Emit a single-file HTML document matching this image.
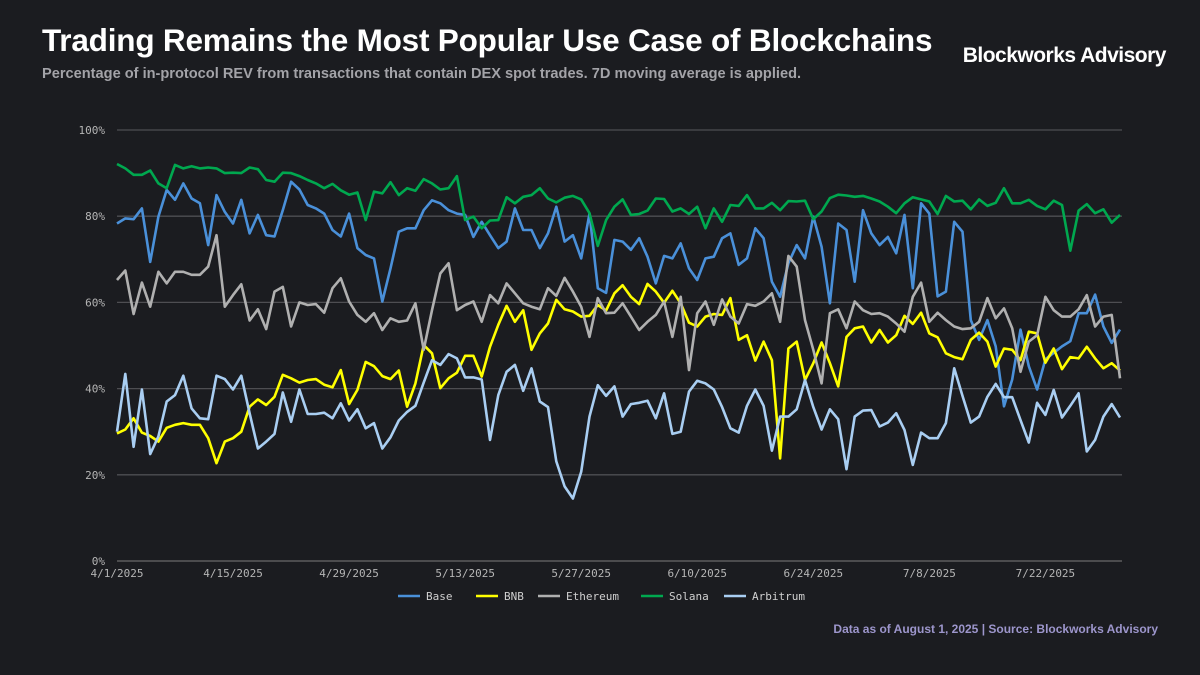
<!DOCTYPE html>
<html><head><meta charset="utf-8"><style>
html,body{margin:0;padding:0;background:#1b1c20;}
#root{position:relative;width:1200px;height:675px;background:#1b1c20;overflow:hidden;font-family:"Liberation Sans",sans-serif;}
.title{position:absolute;left:42px;top:22px;color:#fff;font-weight:bold;font-size:31.5px;letter-spacing:-0.2px;}
.sub{position:absolute;left:42px;top:66px;color:#a3a3a8;font-weight:bold;font-size:14.6px;}
.brand{position:absolute;right:34px;top:44px;color:#fff;font-weight:bold;font-size:21px;letter-spacing:-0.5px;}
.foot{position:absolute;right:42px;top:622px;color:#9d96cc;font-weight:bold;font-size:12px;}
svg text{font-family:"DejaVu Sans Mono","Liberation Mono",monospace;}
</style></head><body>
<div id="root">
<div class="title">Trading Remains the Most Popular Use Case of Blockchains</div>
<div class="sub">Percentage of in-protocol REV from transactions that contain DEX spot trades. 7D moving average is applied.</div>
<div class="brand">Blockworks Advisory</div>
<svg id="chart" width="1200" height="675" style="position:absolute;left:0;top:0"></svg>
<div class="foot">Data as of August 1, 2025 | Source: Blockworks Advisory</div>
</div>
<script>
const yTicks=[0,20,40,60,80,100];
const yTickLabels=["0%","20%","40%","60%","80%","100%"];
const xTickLabels=["4/1/2025","4/15/2025","4/29/2025","5/13/2025","5/27/2025","6/10/2025","6/24/2025","7/8/2025","7/22/2025"];
const xTickDays=[0,14,28,42,56,70,84,98,112];
const seriesNames=["Base","BNB","Ethereum","Solana","Arbitrum"];
const seriesColors=["#4a90d9","#ffff00","#b0b0b0","#00a84f","#a9cef2"];
const base=[78.3,79.5,79.3,81.8,69.4,79.9,86.1,83.8,87.6,84.1,83,73.3,84.9,81,78.3,83.8,76,80.3,75.6,75.3,81.4,88,86.2,82.6,81.8,80.6,76.8,75.3,80.6,
72.6,71,70.2,60.2,67.9,76.4,77.2,77.2,81.4,83.7,83,81.4,80.6,80.3,75.2,78.7,75.6,72.6,74.1,81.8,76.8,76.8,72.6,76,82.2,74.1,75.6,70.2,80.6,63.3,62.2,
74.5,74.1,72.2,74.9,70.6,64.4,70.8,70.2,73.7,67.9,65.2,70.2,70.6,74.9,76,68.7,70.2,77.2,74.9,64.8,61.3,69.1,73.3,70.2,79.9,72.9,59.8,78.3,76.8,64.8,
81.4,76,73.3,75.2,71.4,80.3,63.3,83,80.6,61.4,62.5,78.7,76.4,55.9,51.3,55.9,49.8,35.9,42.1,53.7,45.2,39.8,46.8,48.3,49.8,51,57.5,57.5,61.8,54.4,50.6,53.7];
const bnb=[29.6,30.5,33.1,29.8,29,27.7,30.9,31.6,32,31.6,31.6,28.5,22.7,27.7,28.5,30,35.8,37.5,36.2,38.1,43.2,42.4,41.4,42,42.2,40.9,40.3,44.3,36.4,39.7,
46.2,45.2,42.9,42.2,44.2,35.8,41.2,50.1,48.2,40.1,42.4,43.7,47.6,47.6,42.8,49.7,54.8,59.2,55.5,58.2,49,52.8,55.1,60.6,58.4,57.9,56.7,56.9,59.4,58.1,
62.1,64,61.3,59.6,64.3,62.5,59.9,62.7,59.8,55.3,54.4,56.7,57.3,57.1,61,51.3,52.4,46.5,50.9,46.6,23.8,49.3,50.9,42,45.9,50.7,45.9,40.5,52,54,
54.4,50.7,53.6,50.7,52.4,56.9,55,57.6,52.8,51.9,48.2,47.3,46.8,51.3,53,50.9,45.1,49.3,49,46.6,53.2,52.8,46,49.3,44.5,47.3,47,49.7,47,44.7,45.9,44.2];
const ethereum=[65.2,67.4,57.3,64.6,59,67.1,64.4,67.1,67.1,66.4,66.4,68.3,75.6,59,61.7,64.2,55.8,58.4,53.8,62.5,63.6,54.4,60,59.4,59.6,57.6,63.3,65.6,60.2,57.1,
55.5,57.5,53.6,56.3,55.5,55.8,59.8,49,58.2,66.7,69.1,58.2,59.4,60.2,55.5,61.7,59.8,64.4,62.1,59.8,59,58.4,63.3,61.5,65.7,62.5,59,52,61,57.5,
57.6,59.8,56.7,53.6,55.5,57.1,60.2,52,61.3,44.3,57.5,60.2,54.8,60.7,56.7,55.1,59.6,59.2,60.2,62.1,55.5,70.8,68.3,55.9,49,41.2,57.5,58.4,54,60.2,
58.2,57.3,57.5,56.7,55.1,53.2,61.3,64.6,55.5,57.6,55.9,54.4,53.8,54,55.5,61,56.3,58.6,54,43.9,50.9,52.4,61.3,58.2,56.7,56.7,58.4,61.7,54.4,56.7,57.1,42.4];
const solana=[92.1,91.1,89.6,89.6,90.6,87.6,86.5,91.9,91.1,91.6,91.1,91.3,91.1,90,90.1,90,91.3,90.9,88.4,88,90.1,90,89.3,88.4,87.6,86.5,87.5,86,85,85.5,
79.1,85.7,85.3,87.9,84.9,86.5,85.9,88.6,87.6,86.2,86.5,89.3,79.1,79.9,77.2,79,79.1,84.4,83,84.5,84.9,86.5,84.1,83.2,84.3,84.7,83.9,80.7,73.1,79.1,
82.2,83.9,80.3,80.5,81.3,84.1,84,81.1,81.8,80.5,82.2,77.2,81.8,78.7,82.6,82.4,84.9,81.8,81.8,83.1,81.4,83.5,83.4,83.6,79.3,81.1,84.2,85,84.8,84.5,
84.7,84.1,83.4,82.2,80.7,83,84.4,83.9,83.4,80.5,84.7,83.4,83.6,81.6,83.9,82.4,83.1,86.5,83,83,83.8,82.4,81.6,83.6,82.6,72,81.3,82.8,80.7,81.6,78.5,80.3];
const arbitrum=[30,43.4,26.5,39.8,24.8,28.9,37,38.5,43,35.4,33.1,32.9,43,42.2,39.8,43,34.3,26.1,27.7,29.5,39.1,32.3,39.8,34.1,34.1,34.4,33.1,36.6,32.6,35.2,
30.8,32,26.1,28.7,32.6,34.6,36,41.4,46.6,45.5,48,47,42.6,42.6,42.1,28.1,38.5,43.9,45.5,39.5,44.7,37,35.7,23.1,17.3,14.5,20.7,33.5,40.8,38.3,
40.5,33.5,36.4,36.7,37.2,33.1,38.9,29.5,30,39.3,41.8,41.2,39.8,35.7,30.8,29.8,36,39.8,36,25.6,33.5,33.5,35.2,42,35.7,30.5,35.2,32.9,21.3,33.5,
34.9,35,31.2,32.1,34.3,30.4,22.3,29.8,28.5,28.5,32,44.7,38.3,32.1,33.5,38.1,41.1,38,38,32.7,27.5,36.7,33.9,39.7,33.3,36,38.9,25.4,28.1,33.5,36.4,33.3];
const seriesData=[base,bnb,ethereum,solana,arbitrum];

const NS="http://www.w3.org/2000/svg";
const svg=document.getElementById('chart');
const X0=117,X1=1120,Y0=561,Y1=130,TOTAL_DAYS=121;
function yScale(v){return Y0-(v/100)*(Y0-Y1);}
function xDay(d){return X0+d*(X1-X0)/TOTAL_DAYS;}
function xIdx(i,n){return X0+i*(X1-X0)/(n-1);}
function mk(tag,attrs){const e=document.createElementNS(NS,tag);for(const k in attrs)e.setAttribute(k,attrs[k]);svg.appendChild(e);return e;}

yTicks.forEach((t,k)=>{
  const g=mk('line',{x1:X0,x2:1122,y1:yScale(t),y2:yScale(t),stroke:t===0?'#6a6a6a':'#4e4e52','stroke-width':1.3});
  
  
  const l=mk('text',{x:105,y:yScale(t)+4,'text-anchor':'end',fill:'#b5b5b5','font-size':11});
  l.textContent=yTickLabels[k];
  
  
});
xTickLabels.forEach((lab,k)=>{
  const t=mk('text',{x:xDay(xTickDays[k]),y:577,'text-anchor':'middle',fill:'#b5b5b5','font-size':11});
  t.textContent=lab;
  
  
});
seriesData.forEach((arr,s)=>{
  const pts=arr.map((v,i)=>xIdx(i,arr.length).toFixed(1)+','+yScale(v).toFixed(1)).join(' ');
  const p=mk('polyline',{points:pts,fill:'none',stroke:seriesColors[s],'stroke-width':2.6,'stroke-linejoin':'round'});
  
  
});
const legendX=[398,476,538,641,724];
seriesNames.forEach((n,s)=>{
  const g=mk('line',{x1:legendX[s],x2:legendX[s]+22,y1:596,y2:596,stroke:seriesColors[s],'stroke-width':2.6});
  
  
  const t=mk('text',{x:legendX[s]+28,y:600,fill:'#d0d0d0','font-size':11});
  t.textContent=n;
  
  
});
</script>
</body></html>
